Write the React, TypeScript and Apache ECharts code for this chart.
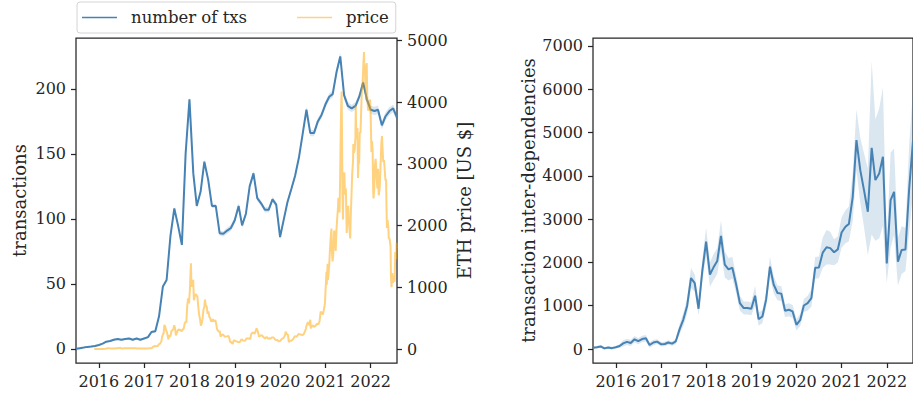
import React, { useEffect, useRef } from "react";
import * as echarts from "echarts";

// Monthly series start in July 2015 and run one value per month.
const firstMonth = { year: 2015, month: 7 };

// Average number of transactions per block, per month.
const txCount = [
  0, 0.5, 1, 1.5, 1.8, 2.2,
  3, 4, 5.5, 6, 7, 7.5, 7, 7.5, 8, 7, 8, 7,
  8, 9, 13, 13.5, 25, 48, 53, 87, 108, 95, 80, 150,
  192, 135, 110, 121, 144, 130, 110, 110, 89, 88.5, 91, 93,
  99, 110, 95, 104, 125, 135, 116, 112, 107, 107, 115, 111,
  86, 100, 113, 123, 133, 147, 165, 184, 166, 166, 175, 180,
  188, 194, 196, 213, 225, 195, 187, 185, 187, 194, 205, 192,
  184, 183, 184, 172, 179, 183, 185, 178,
];
// Half-width of the 95% interval around txCount.
const txCi = [
  0.4, 0.4, 0.4, 0.5, 0.5, 0.5,
  0.5, 0.5, 0.6, 0.6, 0.7, 0.7, 0.7, 0.7, 0.7, 0.7, 0.7, 0.7,
  0.7, 0.8, 0.9, 0.9, 1.0, 1.2, 1.3, 1.5, 1.6, 1.5, 1.5, 1.8,
  2.0, 1.8, 1.7, 1.7, 1.8, 1.8, 1.7, 1.7, 1.8, 2.0, 2.2, 2.4,
  2.4, 2.4, 2.2, 2.0, 2.0, 2.0, 2.0, 2.0, 2.0, 2.0, 2.0, 2.0,
  2.0, 2.0, 2.0, 2.0, 2.0, 2.0, 2.2, 2.4, 2.5, 2.4, 2.4, 2.5,
  2.6, 2.6, 2.6, 2.8, 3.0, 3.2, 3.0, 2.8, 2.8, 2.8, 3.0, 3.0,
  3.0, 3.2, 3.2, 3.0, 3.0, 3.0, 3.0, 3.0,
];

// Transaction inter-dependencies per block, per month.
const interDeps = [
  30, 40, 60, 15, 35, 20,
  40, 70, 130, 165, 140, 225, 180, 230, 248, 92, 150, 170,
  112, 115, 150, 125, 178, 460, 680, 1000, 1640, 1520, 930, 1800,
  2480, 1720, 1880, 2030, 2610, 1950, 1840, 1876, 1490, 1062, 946, 946,
  930, 1232, 690, 752, 1140, 1900, 1490, 1294, 1279, 884, 907, 868,
  558, 674, 1005, 1060, 1175, 1875, 1885, 2225, 2350, 2330, 2235, 2300,
  2690, 2825, 2890, 3515, 4823, 4130, 3669, 3170, 4646, 3900, 4054, 4438,
  1977, 3438, 3631, 2015, 2285, 2300, 3700, 4800,
];
const interDepsCi = [
  30, 30, 30, 30, 30, 30,
  30, 40, 70, 70, 70, 75, 70, 75, 75, 60, 65, 55,
  50, 50, 50, 50, 60, 120, 150, 180, 230, 200, 150, 250,
  320, 280, 300, 300, 350, 300, 260, 250, 200, 170, 150, 150,
  150, 230, 150, 150, 180, 230, 200, 170, 170, 150, 150, 150,
  130, 140, 150, 170, 200, 250, 250, 350, 400, 380, 300, 300,
  350, 380, 400, 550, 700, 750, 850, 1000, 2000, 1400, 1500, 1600,
  450, 1100, 1000, 550, 550, 500, 1000, 1200,
];

// ETH closing price in US dollars.
const priceDates = [
  "2015-11-25", "2015-12-15", "2016-01-01", "2016-01-20", "2016-02-05", "2016-02-20",
  "2016-03-01", "2016-03-13", "2016-03-25", "2016-04-10", "2016-04-25", "2016-05-10",
  "2016-05-25", "2016-06-10", "2016-06-17", "2016-06-28", "2016-07-10", "2016-07-25",
  "2016-08-10", "2016-08-25", "2016-09-10", "2016-09-25", "2016-10-10", "2016-10-25",
  "2016-11-10", "2016-11-25", "2016-12-10", "2016-12-25", "2017-01-10", "2017-01-25",
  "2017-02-10", "2017-02-25", "2017-03-05", "2017-03-15", "2017-03-25", "2017-04-05",
  "2017-04-20", "2017-05-01", "2017-05-10", "2017-05-20", "2017-05-25", "2017-05-31",
  "2017-06-07", "2017-06-13", "2017-06-20", "2017-06-27", "2017-07-04", "2017-07-11",
  "2017-07-16", "2017-07-20", "2017-07-27", "2017-08-03", "2017-08-10", "2017-08-17",
  "2017-08-24", "2017-08-31", "2017-09-07", "2017-09-14", "2017-09-21", "2017-09-28",
  "2017-10-05", "2017-10-12", "2017-10-19", "2017-10-26", "2017-11-02", "2017-11-09",
  "2017-11-16", "2017-11-23", "2017-11-30", "2017-12-07", "2017-12-14", "2017-12-21",
  "2017-12-28", "2018-01-04", "2018-01-10", "2018-01-13", "2018-01-17", "2018-01-24",
  "2018-01-31", "2018-02-06", "2018-02-13", "2018-02-20", "2018-02-27", "2018-03-06",
  "2018-03-13", "2018-03-20", "2018-03-27", "2018-04-03", "2018-04-10", "2018-04-17",
  "2018-04-24", "2018-05-01", "2018-05-06", "2018-05-13", "2018-05-20", "2018-05-27",
  "2018-06-03", "2018-06-10", "2018-06-17", "2018-06-24", "2018-07-01", "2018-07-08",
  "2018-07-15", "2018-07-22", "2018-07-29", "2018-08-05", "2018-08-12", "2018-08-19",
  "2018-08-26", "2018-09-02", "2018-09-09", "2018-09-16", "2018-09-23", "2018-09-30",
  "2018-10-14", "2018-10-28", "2018-11-11", "2018-11-18", "2018-11-25", "2018-12-02",
  "2018-12-09", "2018-12-15", "2018-12-24", "2019-01-01", "2019-01-10", "2019-01-20",
  "2019-02-01", "2019-02-15", "2019-02-24", "2019-03-10", "2019-03-25", "2019-04-05",
  "2019-04-20", "2019-05-05", "2019-05-15", "2019-05-30", "2019-06-10", "2019-06-26",
  "2019-07-05", "2019-07-16", "2019-07-25", "2019-08-06", "2019-08-20", "2019-09-01",
  "2019-09-15", "2019-09-25", "2019-10-05", "2019-10-20", "2019-10-28", "2019-11-10",
  "2019-11-25", "2019-12-10", "2019-12-20", "2020-01-01", "2020-01-15", "2020-01-30",
  "2020-02-10", "2020-02-15", "2020-02-25", "2020-03-05", "2020-03-12", "2020-03-20",
  "2020-04-01", "2020-04-15", "2020-04-30", "2020-05-15", "2020-05-30", "2020-06-15",
  "2020-06-30", "2020-07-10", "2020-07-25", "2020-08-05", "2020-08-15", "2020-08-25",
  "2020-09-01", "2020-09-05", "2020-09-20", "2020-10-01", "2020-10-15", "2020-10-25",
  "2020-11-05", "2020-11-15", "2020-11-24", "2020-12-01", "2020-12-12", "2020-12-20",
  "2020-12-28", "2021-01-03", "2021-01-10", "2021-01-12", "2021-01-19", "2021-01-22",
  "2021-01-27", "2021-02-01", "2021-02-07", "2021-02-13", "2021-02-19", "2021-02-23",
  "2021-02-28", "2021-03-05", "2021-03-13", "2021-03-20", "2021-03-25", "2021-03-31",
  "2021-04-06", "2021-04-13", "2021-04-16", "2021-04-22", "2021-04-25", "2021-04-30",
  "2021-05-04", "2021-05-08", "2021-05-12", "2021-05-14", "2021-05-19", "2021-05-23",
  "2021-05-27", "2021-06-03", "2021-06-08", "2021-06-15", "2021-06-22", "2021-06-28",
  "2021-07-04", "2021-07-08", "2021-07-15", "2021-07-20", "2021-07-25", "2021-07-31",
  "2021-08-05", "2021-08-12", "2021-08-14", "2021-08-19", "2021-08-25", "2021-08-31",
  "2021-09-03", "2021-09-07", "2021-09-12", "2021-09-16", "2021-09-21", "2021-09-26",
  "2021-09-30", "2021-10-05", "2021-10-11", "2021-10-16", "2021-10-21", "2021-10-25",
  "2021-10-28", "2021-11-03", "2021-11-08", "2021-11-10", "2021-11-15", "2021-11-19",
  "2021-11-26", "2021-11-30", "2021-12-04", "2021-12-10", "2021-12-14", "2021-12-20",
  "2021-12-27", "2022-01-01", "2022-01-07", "2022-01-12", "2022-01-17", "2022-01-21",
  "2022-01-24", "2022-01-30", "2022-02-04", "2022-02-10", "2022-02-14", "2022-02-18",
  "2022-02-24", "2022-03-01", "2022-03-07", "2022-03-14", "2022-03-20", "2022-03-28",
  "2022-04-02", "2022-04-08", "2022-04-12", "2022-04-18", "2022-04-22", "2022-04-30",
  "2022-05-05", "2022-05-09", "2022-05-12", "2022-05-17", "2022-05-23", "2022-05-27",
  "2022-06-03", "2022-06-10", "2022-06-13", "2022-06-18", "2022-06-24", "2022-06-30",
  "2022-07-06", "2022-07-13", "2022-07-18", "2022-07-22", "2022-07-26", "2022-07-29",
  "2022-08-01",
];
const priceUsd = [
  0.9, 0.9, 0.95, 1.5, 2.5, 4.5,
  7.5, 14, 11, 8.5, 7.5, 9.5,
  12.5, 14, 20, 12, 10.5, 13,
  11, 11, 12, 13, 12, 11.5,
  10.5, 9, 8, 7.5, 10, 10.5,
  11.5, 14, 19, 35, 50, 45,
  48, 80, 88, 125, 190, 230,
  255, 390, 360, 300, 270, 200,
  155, 230, 200, 225, 300, 300,
  320, 385, 335, 220, 260, 300,
  320, 305, 315, 295, 290, 320,
  330, 410, 440, 430, 700, 820,
  740, 940, 1250, 1390, 1010, 1050,
  1120, 790, 860, 890, 870, 850,
  690, 555, 485, 380, 415, 505,
  640, 680, 800, 700, 690, 570,
  610, 520, 500, 450, 450, 485,
  450, 460, 465, 400, 315, 300,
  275, 295, 200, 220, 240, 230,
  200, 205, 212, 175, 115, 115,
  95, 84, 140, 140, 125, 120,
  107, 122, 160, 137, 135, 170,
  173, 162, 250, 270, 245, 335,
  290, 200, 215, 225, 195, 172,
  197, 168, 175, 172, 190, 185,
  147, 145, 128, 130, 165, 180,
  225, 280, 240, 230, 112, 135,
  135, 160, 210, 200, 245, 235,
  225, 240, 310, 400, 435, 385,
  475, 335, 385, 360, 380, 410,
  400, 450, 605, 590, 560, 640,
  730, 970, 1250, 1040, 1380, 1120,
  1230, 1370, 1610, 1810, 1950, 1570,
  1420, 1530, 1920, 1810, 1590, 1920,
  2110, 2300, 2450, 2380, 2210, 2770,
  3430, 3900, 4170, 3720, 2440, 2100,
  2740, 2860, 2500, 2600, 1880, 2170,
  2320, 2110, 1920, 1790, 2190, 2530,
  2830, 3050, 3320, 3180, 3230, 3430,
  3940, 3430, 3410, 3580, 2770, 3060,
  3000, 3520, 3500, 3830, 4170, 4230,
  4290, 4600, 4810, 4630, 4570, 4300,
  4030, 4630, 4120, 3900, 3860, 3940,
  4040, 3770, 3190, 3370, 3200, 2560,
  2440, 2600, 2980, 3080, 2940, 2780,
  2600, 2920, 2490, 2590, 2890, 3330,
  3450, 3190, 3030, 3060, 2960, 2730,
  2750, 2240, 1960, 2090, 1970, 1790,
  1780, 1660, 1210, 1000, 1230, 1070,
  1190, 1090, 1570, 1540, 1450, 1720,
  1630,
];

const yearTicks = [2016, 2017, 2018, 2019, 2020, 2021, 2022];
const txTicks = [0, 50, 100, 150, 200];
const priceTicks = [0, 1000, 2000, 3000, 4000, 5000];
const depTicks = [0, 1000, 2000, 3000, 4000, 5000, 6000, 7000];

const FONT = "DejaVu Serif";
const INK = "#262626";
const BLUE = "#4682b4";
const BLUE_BAND = "rgba(70,130,180,0.2)";
const ORANGE = "rgba(255,165,0,0.5)";

function decimalYear(y: number, m: number, d: number): number {
  const start = Date.UTC(y, 0, 1);
  const end = Date.UTC(y + 1, 0, 1);
  return y + (Date.UTC(y, m - 1, d) - start) / (end - start);
}

function monthX(index: number): number {
  const total = firstMonth.month - 1 + index;
  return decimalYear(firstMonth.year + Math.floor(total / 12), (total % 12) + 1, 1);
}

function dateX(s: string): number {
  const [y, m, d] = s.split("-").map(Number);
  return decimalYear(y, m, d);
}

const xMin = monthX(0);
const xMax = monthX(txCount.length - 1);

function bandSeries(gridAxis: number, yAxisIndex: number, mid: number[], ci: number[]) {
  const data = mid.map((v, i) => [monthX(i), v - ci[i], v + ci[i]]);
  return {
    type: "custom",
    xAxisIndex: gridAxis,
    yAxisIndex,
    data,
    silent: true,
    clip: true,
    z: 1,
    encode: { x: 0, y: [1, 2] },
    renderItem: (params: any, api: any) => {
      if (params.dataIndex !== 0) return null;
      const upper = data.map((d) => api.coord([d[0], d[2]]));
      const lower = data.map((d) => api.coord([d[0], d[1]])).reverse();
      return {
        type: "polygon",
        shape: { points: upper.concat(lower) },
        style: { fill: BLUE_BAND },
      };
    },
  };
}

const plainNumber = (v: number) => String(Math.round(v));

function xAxis(gridIndex: number) {
  return {
    type: "value",
    gridIndex,
    min: xMin,
    max: xMax,
    axisLine: { show: false, onZero: false },
    splitLine: { show: false },
    axisTick: {
      show: true,
      length: 5,
      customValues: yearTicks,
      lineStyle: { color: INK, width: 1.25 },
    },
    axisLabel: {
      customValues: yearTicks,
      margin: 10,
      color: INK,
      fontFamily: FONT,
      fontSize: 16,
      formatter: plainNumber,
    },
  };
}

function yAxis(
  gridIndex: number,
  position: string,
  min: number,
  max: number,
  ticks: number[],
  name: string,
  nameGap: number
) {
  return {
    type: "value",
    gridIndex,
    position,
    min,
    max,
    name,
    nameLocation: "middle",
    nameGap,
    nameTextStyle: { color: INK, fontFamily: FONT, fontSize: 18 },
    axisLine: { show: false, onZero: false },
    splitLine: { show: false },
    axisTick: {
      show: true,
      length: 5,
      customValues: ticks,
      lineStyle: { color: INK, width: 1.25 },
    },
    axisLabel: {
      customValues: ticks,
      margin: 10,
      color: INK,
      fontFamily: FONT,
      fontSize: 16,
      formatter: plainNumber,
    },
  };
}

export default function App() {
  const ref = useRef<HTMLDivElement>(null);

  useEffect(() => {
    document.body.style.margin = "0";
    if (!ref.current) return;
    const chart = echarts.init(ref.current, null, { renderer: "svg" });

    const gridBase = {
      show: true,
      top: 38,
      height: 325,
      width: 321,
      borderColor: INK,
      borderWidth: 1.25,
      backgroundColor: "transparent",
      containLabel: false,
    };

    chart.setOption({
      animation: false,
      textStyle: { fontFamily: FONT },
      legend: {
        data: ["number of txs", "price"],
        left: 77,
        top: 2,
        padding: [7, 7, 7, 5],
        icon: "rect",
        itemWidth: 35,
        itemHeight: 1.6,
        itemGap: 50,
        borderColor: "#d4d4d4",
        borderWidth: 1,
        borderRadius: 3,
        textStyle: { color: INK, fontFamily: FONT, fontSize: 16.5, padding: [0, 0, 0, 9] },
      },
      grid: [
        { ...gridBase, left: 76 },
        { ...gridBase, left: 593 },
      ],
      xAxis: [xAxis(0), xAxis(1)],
      yAxis: [
        yAxis(0, "left", -10.9, 239.2, txTicks, "transactions", 48),
        yAxis(0, "right", -226, 5037, priceTicks, "ETH price [US $]", 58),
        yAxis(1, "left", -323, 7182, depTicks, "transaction inter-dependencies", 56),
      ],
      series: [
        bandSeries(0, 0, txCount, txCi),
        {
          name: "number of txs",
          type: "line",
          xAxisIndex: 0,
          yAxisIndex: 0,
          data: txCount.map((v, i) => [monthX(i), v]),
          symbol: "none",
          lineStyle: { color: BLUE, width: 2 },
          itemStyle: { color: BLUE },
          z: 2,
        },
        {
          name: "price",
          type: "line",
          xAxisIndex: 0,
          yAxisIndex: 1,
          data: priceDates.map((d, i) => [dateX(d), priceUsd[i]]),
          symbol: "none",
          lineStyle: { color: ORANGE, width: 2 },
          itemStyle: { color: ORANGE },
          z: 3,
        },
        bandSeries(1, 2, interDeps, interDepsCi),
        {
          name: "transaction inter-dependencies",
          type: "line",
          xAxisIndex: 1,
          yAxisIndex: 2,
          data: interDeps.map((v, i) => [monthX(i), v]),
          symbol: "none",
          lineStyle: { color: BLUE, width: 2 },
          itemStyle: { color: BLUE },
          z: 2,
        },
      ],
    });

    return () => chart.dispose();
  }, []);

  return <div ref={ref} style={{ width: 913, height: 396 }} />;
}
